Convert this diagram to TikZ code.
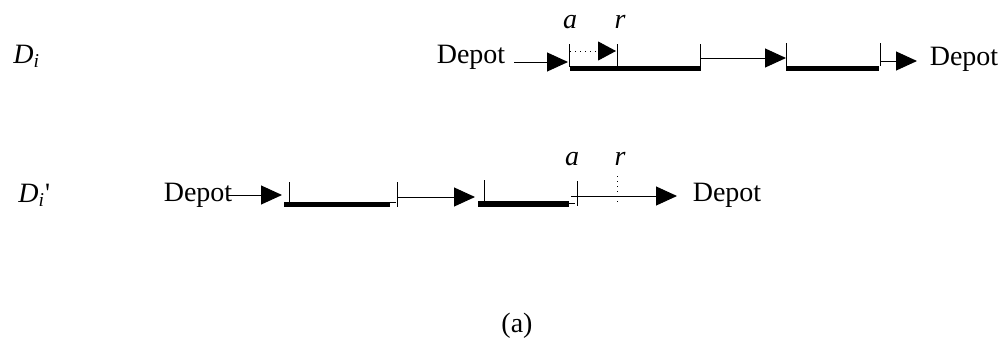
\documentclass[tikz,border=0pt]{standalone}
\usepackage{fontspec}
\setmainfont{Liberation Serif}
\usetikzlibrary{arrows.meta}
\begin{document}
\begin{tikzpicture}[x=0.5pt,y=-0.5pt,
  txt/.style={inner sep=0pt, anchor=base, font=\fontsize{14}{16}\selectfont},
  lbl/.style={inner sep=0pt, anchor=base, font=\fontsize{14}{16}\selectfont\itshape},
  flow/.style={line width=0.5pt, -{Triangle[length=10.5pt,width=9.5pt]}},
  tickline/.style={line width=0.5pt},
  dotline/.style={line width=0.5pt, dotted},
  barline/.style={line width=2.6pt},
  ]
\useasboundingbox (0,0) rectangle (1006,338);

% row labels
\node[lbl, anchor=base west] (Di) at (13,63) {D\textsubscript{i}};
\node[txt, anchor=base west] (Dip) at (18,202) {{\itshape D\textsubscript{i}}\textquotesingle};

% ---------- row 1 ----------
\node[txt] (dep1) at (471,63) {Depot};
\node[txt] (dep2) at (964,65) {Depot};
\node[lbl] (a1) at (570,28) {a};
\node[lbl] (r1) at (620,28) {r};

\coordinate (s1) at (514,62);   \coordinate (e1) at (568,62);
\coordinate (k1t) at (569,44);  \coordinate (k1b) at (569,67);
\coordinate (ds1) at (570,51);  \coordinate (de1) at (616,51);
\coordinate (k2t) at (617,44);  \coordinate (k2b) at (617,66);
\coordinate (b1s) at (570,68.5);\coordinate (b1e) at (701,68.5);
\coordinate (k3t) at (700,44);  \coordinate (k3b) at (700,67);
\coordinate (s2) at (700,58);   \coordinate (e2) at (786,58);
\coordinate (k4t) at (786,43);  \coordinate (k4b) at (786,67);
\coordinate (b2s) at (786,68.5);\coordinate (b2e) at (879,68.5);
\coordinate (k5t) at (880,43);  \coordinate (k5b) at (880,66);
\coordinate (s3) at (880,61);   \coordinate (e3) at (917,61);

\draw[flow] (s1) -- (e1);
\draw[tickline] (k1t) -- (k1b);
\draw[dotline, -{Triangle[length=9pt,width=9.5pt]}] (ds1) -- (de1);
\draw[tickline] (k2t) -- (k2b);
\draw[barline] (b1s) -- (b1e);
\draw[tickline] (k3t) -- (k3b);
\draw[flow] (s2) -- (e2);
\draw[tickline] (k4t) -- (k4b);
\draw[barline] (b2s) -- (b2e);
\draw[tickline] (k5t) -- (k5b);
\draw[flow] (s3) -- (e3);

% ---------- row 2 ----------
\node[txt] (dep3) at (198,201) {Depot};
\node[txt] (dep4) at (727,201) {Depot};
\node[lbl] (a2) at (572,165) {a};
\node[lbl] (r2) at (620,165) {r};

\coordinate (s4) at (228,195);  \coordinate (e4) at (282,195);
\coordinate (m1t) at (289,182); \coordinate (m1b) at (289,202);
\coordinate (c1s) at (284,204.5);\coordinate (c1e) at (390,204.5);
\coordinate (q1s) at (390,202); \coordinate (q1e) at (396,202);
\coordinate (m2t) at (397,182); \coordinate (m2b) at (397,207);
\coordinate (s5) at (397,197);  \coordinate (e5) at (475,197);
\coordinate (m3t) at (484,180); \coordinate (m3b) at (484,202);
\coordinate (c2s) at (478,204); \coordinate (c2e) at (569,204);
\coordinate (q2s) at (569,203); \coordinate (q2e) at (575,203);
\coordinate (m4t) at (577,181); \coordinate (m4b) at (577,206);
\coordinate (s6) at (571,196);  \coordinate (e6) at (677,196);
\coordinate (v1t) at (617,176); \coordinate (v1b) at (617,205);

\draw[flow] (s4) -- (e4);
\draw[tickline] (m1t) -- (m1b);
\draw[barline] (c1s) -- (c1e);
\draw[tickline] (q1s) -- (q1e);
\draw[tickline] (m2t) -- (m2b);
\draw[flow] (s5) -- (e5);
\draw[tickline] (m3t) -- (m3b);
\draw[barline] (c2s) -- (c2e);
\draw[tickline] (q2s) -- (q2e);
\draw[tickline] (m4t) -- (m4b);
\draw[flow] (s6) -- (e6);
\draw[dotline] (v1t) -- (v1b);

% caption
\node[txt] (cap) at (517,332) {(a)};
\end{tikzpicture}
\end{document}
